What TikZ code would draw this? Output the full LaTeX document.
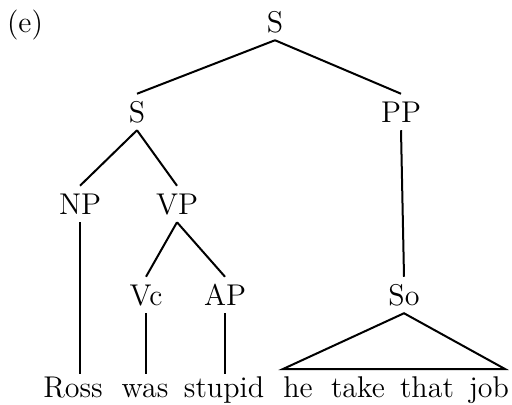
\documentclass[tikz,border=0pt]{standalone}
\usepackage{tikz}
\usetikzlibrary{positioning}
\tikzstyle{cat} = [font=\large, inner sep=3pt, text height=8.2pt, text depth=0pt]
\tikzstyle{word} = [font=\large, inner sep=0.8pt, text height=8.4pt, text depth=2pt, anchor=base]
\tikzstyle{branch} = [line width=0.8pt, color=black]
\begin{document}
\begin{tikzpicture}[x=0.4pt, y=-0.4pt]
\useasboundingbox (0,0) rectangle (512,405);
% Label
\node (lab) [cat] at (25,22) {(e)};

% Categories
\node (stop) [cat] at (275,22) {S};
\node (sleft) [cat] at (137,112) {S};
\node (pp) [cat] at (401,112) {PP};
\node (np) [cat] at (80,204) {NP};
\node (vp) [cat] at (177,204) {VP};
\node (vc) [cat] at (146,295) {Vc};
\node (ap) [cat] at (225,295) {AP};
\node (so) [cat] at (404,295) {So};

% Words
\node (ross) [word] at (73,397) {Ross};
\node (was) [word] at (145,397) {was};
\node (stupid) [word] at (224,397) {stupid};
\node (he) [word] at (298,397) {he};
\node (take) [word] at (358,397) {take};
\node (that) [word] at (427,397) {that};
\node (job) [word] at (489,397) {job};

% Branches
\draw[branch] (stop.south) -- (sleft.north);
\draw[branch] (stop.south) -- (pp.north);
\draw[branch] (sleft.south) -- (np.north);
\draw[branch] (sleft.south) -- (vp.north);
\draw[branch] (vp.south) -- (vc.north);
\draw[branch] (vp.south) -- (ap.north);
\draw[branch] (pp.south) -- (so.north);
\draw[branch] (np.south) -- (np.south |- ross.north);
\draw[branch] (vc.south) -- (vc.south |- was.north);
\draw[branch] (ap.south) -- (ap.south |- stupid.north);

% Triangle over the clause
\coordinate (triL) at (283,369);
\coordinate (triR) at (505,369);
\draw[branch] (so.south) -- (triL) -- (triR) -- cycle;
\end{tikzpicture}
\end{document}
